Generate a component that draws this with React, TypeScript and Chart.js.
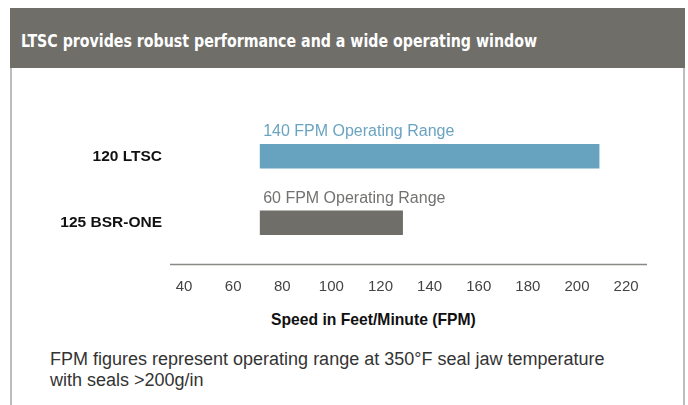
import React, { useEffect, useRef } from "react";
import { Chart, registerables } from "chart.js";

Chart.register(...registerables);

const categories = ["120 LTSC", "125 BSR-ONE"];
const rangeStart = [71, 71];
const rangeEnd = [209, 129];
const barLabels = ["140 FPM Operating Range", "60 FPM Operating Range"];
const barColors = ["#67a2bf", "#6f6e69"];
const labelColors = ["#6aa4c1", "#737270"];
const xTicks = [40, 60, 80, 100, 120, 140, 160, 180, 200, 220];
const xMin = 34.3;
const xMax = 228.5;

const titleText = "LTSC provides robust performance and a wide operating window";
const axisTitle = "Speed in Feet/Minute (FPM)";
const footLines = [
  "FPM figures represent operating range at 350°F seal jaw temperature",
  "with seals >200g/in",
];

const FONT = '"Liberation Sans", Arial, Helvetica, sans-serif';

export default function App() {
  const canvasRef = useRef<HTMLCanvasElement | null>(null);
  const titleRef = useRef<HTMLSpanElement | null>(null);

  useEffect(() => {
    const t = titleRef.current;
    if (t) {
      const w = t.getBoundingClientRect().width;
      if (w > 0) t.style.transform = `scaleX(${516 / w})`;
    }
  }, []);

  useEffect(() => {
    const canvas = canvasRef.current;
    if (!canvas) return;

    const decor = {
      id: "decor",
      afterDatasetsDraw(chart: any) {
        const { ctx, chartArea } = chart;
        ctx.save();
        ctx.strokeStyle = "#8a8985";
        ctx.lineWidth = 1.5;
        ctx.beginPath();
        const yLine = chartArea.bottom + 8.5;
        ctx.moveTo(chartArea.left, yLine);
        ctx.lineTo(chartArea.right, yLine);
        ctx.stroke();
        const meta = chart.getDatasetMeta(0);
        ctx.font = `16px ${FONT}`;
        ctx.textAlign = "left";
        ctx.textBaseline = "alphabetic";
        meta.data.forEach((el: any, i: number) => {
          const left = Math.min(el.x, el.base);
          ctx.fillStyle = labelColors[i];
          ctx.fillText(barLabels[i], left + 3, el.y - el.height / 2 - 8);
        });
        ctx.restore();
      },
    };

    const chart = new Chart(canvas, {
      type: "bar",
      data: {
        labels: categories,
        datasets: [
          {
            data: categories.map((_, i) => [rangeStart[i], rangeEnd[i]]) as any,
            backgroundColor: barColors,
            borderWidth: 0,
            barThickness: 24,
          },
        ],
      },
      options: {
        indexAxis: "y",
        animation: false,
        responsive: false,
        maintainAspectRatio: false,
        layout: { padding: { top: 123, right: 41, left: 0, bottom: 0 } },
        plugins: {
          legend: { display: false },
          tooltip: { enabled: false },
        },
        scales: {
          x: {
            type: "linear",
            min: xMin,
            max: xMax,
            afterBuildTicks: (scale: any) => {
              scale.ticks = xTicks.map((v) => ({ value: v }));
            },
            afterFit: (scale: any) => {
              scale.height = 44;
            },
            grid: { display: false, drawTicks: false },
            border: { display: false },
            ticks: {
              padding: 22,
              color: "#444444",
              font: { family: FONT, size: 15 },
              maxRotation: 0,
              autoSkip: false,
            },
          },
          y: {
            type: "category",
            offset: true,
            afterFit: (scale: any) => {
              scale.width = 170;
            },
            grid: { display: false, drawTicks: false },
            border: { display: false },
            ticks: {
              padding: 8,
              color: "#111111",
              font: { family: FONT, size: 15.5, weight: "bold" },
            },
          },
        },
      },
      plugins: [decor],
    });
    return () => chart.destroy();
  }, []);

  return (
    <div
      style={{
        position: "fixed",
        left: 0,
        top: 0,
        width: 688,
        height: 405,
        background: "#ffffff",
        overflow: "hidden",
      }}
    >
      <div
        style={{
          position: "absolute",
          left: 10,
          top: 68,
          width: 671,
          height: 340,
          borderLeft: "2px solid #bdbdbd",
          borderRight: "2px solid #bdbdbd",
        }}
      />
      <div
        style={{
          position: "absolute",
          left: 10,
          top: 8,
          width: 675,
          height: 60,
          background: "#6f6e69",
        }}
      >
        <span
          ref={titleRef}
          style={{
            position: "absolute",
            left: 11,
            top: 23,
            color: "#ffffff",
            fontFamily: '"DejaVu Sans Condensed", "DejaVu Sans", sans-serif',
            fontWeight: "bold",
            fontSize: 18,
            lineHeight: "20px",
            whiteSpace: "nowrap",
            transformOrigin: "left center",
          }}
        >
          {titleText}
        </span>
      </div>
      <canvas
        ref={canvasRef}
        width={688}
        height={300}
        style={{ position: "absolute", left: 0, top: 0, width: 688, height: 300 }}
      />
      <div
        style={{
          position: "absolute",
          left: 271,
          top: 311,
          fontFamily: FONT,
          fontWeight: "bold",
          fontSize: 15.7,
          color: "#111111",
          whiteSpace: "nowrap",
          lineHeight: "18px",
        }}
      >
        {axisTitle}
      </div>
      <div
        style={{
          position: "absolute",
          left: 50,
          top: 349,
          fontFamily: FONT,
          fontSize: 18,
          color: "#333333",
          lineHeight: "21px",
          whiteSpace: "nowrap",
        }}
      >
        {footLines.map((l, i) => (
          <div key={i}>{l}</div>
        ))}
      </div>
    </div>
  );
}
